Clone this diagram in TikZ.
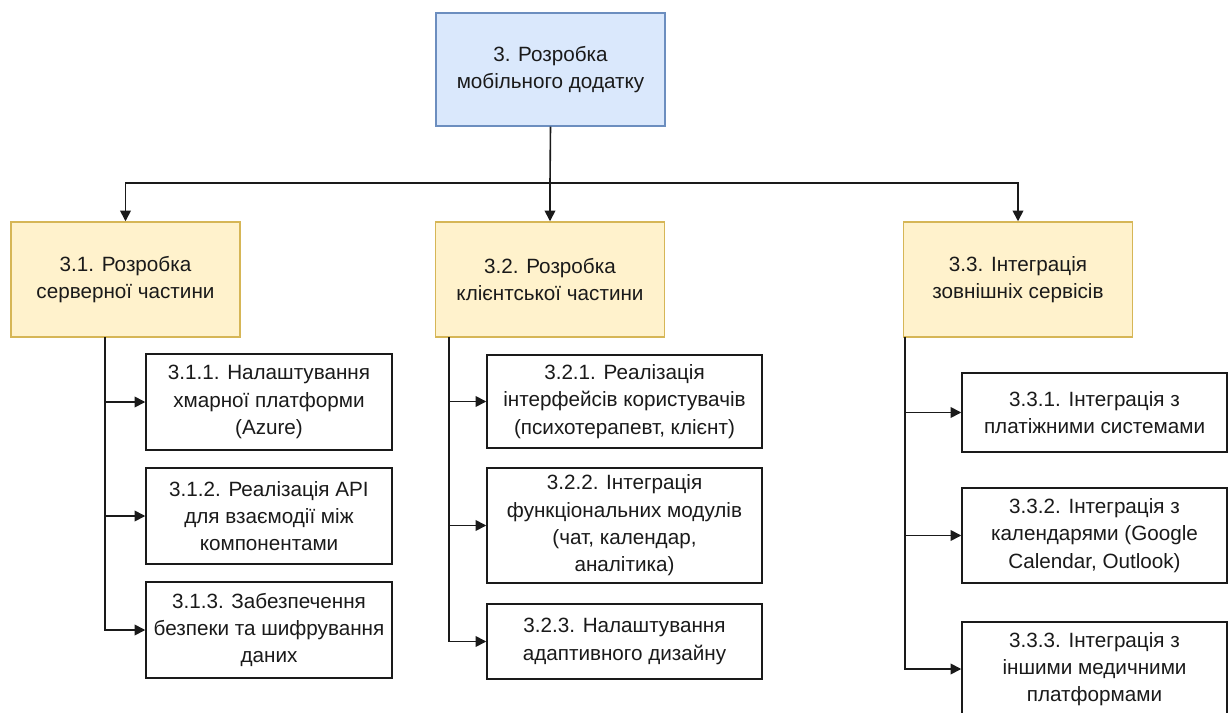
\documentclass[tikz,border=0pt]{standalone}
\usepackage{fontspec}
\setmainfont{Liberation Sans}
\usetikzlibrary{arrows.meta}
\definecolor{bluefill}{HTML}{DAE8FC}
\definecolor{blueline}{HTML}{6C8EBF}
\definecolor{yelfill}{HTML}{FFF2CC}
\definecolor{yelline}{HTML}{D6B656}
\definecolor{ink}{HTML}{1A1A1A}
\begin{document}
\begin{tikzpicture}[x=0.75pt,y=-0.75pt,
  boxbase/.style={rectangle,inner sep=0pt,align=center,text=ink,line width=1.1pt,
    font=\fontsize{15.5}{20.5}\selectfont},
  topbox/.style={boxbase,draw=blueline,fill=bluefill,minimum width=171.75pt,minimum height=84.75pt},
  midbox/.style={boxbase,draw=yelline,fill=yelfill,minimum width=171.75pt,minimum height=86.25pt},
  leafbox/.style={boxbase,draw=ink,fill=white},
  conn/.style={draw=ink,line width=1.2pt},
  arr/.style={conn,-{Triangle[length=8pt,width=8pt]}}
]
\useasboundingbox (0,0) rectangle (1232,713);
\clip (0,0) rectangle (1232,713);
\fill[white] (0,0) rectangle (1232,713);

\node[topbox] (top) at (550.5,69.5) {3. Розробка\\мобільного додатку};

\node[midbox] (b1) at (125.5,279.5) {3.1. Розробка\\серверної частини};
\node[midbox] (b2) at (550,279.5) {3.2. Розробка\\клієнтської частини};
\node[midbox] (b3) at (1018,279.5) {3.3. Інтеграція\\зовнішніх сервісів};

\node[leafbox,minimum width=184.5pt,minimum height=72pt] (a1) at (269,402) {3.1.1. Налаштування\\хмарної платформи\\(Azure)};
\node[leafbox,minimum width=184.5pt,minimum height=72pt] (a2) at (269,516) {3.1.2. Реалізація API\\для взаємодії між\\компонентами};
\node[leafbox,minimum width=184.5pt,minimum height=72pt] (a3) at (269,630) {3.1.3. Забезпечення\\безпеки та шифрування\\даних};

\node[leafbox,minimum width=206.25pt,minimum height=69.75pt] (c1) at (624.5,401.5) {3.2.1. Реалізація\\інтерфейсів користувачів\\(психотерапевт, клієнт)};
\node[leafbox,minimum width=206.25pt,minimum height=86.25pt] (c2) at (624.5,525.5) {3.2.2. Інтеграція\\функціональних модулів\\(чат, календар,\\аналітика)};
\node[leafbox,minimum width=206.25pt,minimum height=56.25pt] (c3) at (624.5,641.5) {3.2.3. Налаштування\\адаптивного дизайну};

\node[leafbox,minimum width=198.75pt,minimum height=59.25pt] (d1) at (1094.5,412.5) {3.3.1. Інтеграція з\\платіжними системами};
\node[leafbox,minimum width=198.75pt,minimum height=71.25pt] (d2) at (1094.5,535.5) {3.3.2. Інтеграція з\\календарями (Google\\Calendar, Outlook)};
\node[leafbox,minimum width=198.75pt,minimum height=70.5pt] (d3) at (1094.5,669) {3.3.3. Інтеграція з\\іншими медичними\\платформами};

% top level connectors
\coordinate (hub) at (550,183);
\draw[conn] (top.south) -- (hub);
\draw[arr] (hub) -| (b1.north);
\draw[arr] (hub) -- (b2.north);
\draw[arr] (hub) -| (b3.north);

% trunks
\coordinate (t1) at (105,337);
\coordinate (t2) at (449,337);
\coordinate (t3) at (905,337);
\draw[arr] (t1) |- (a1.west);
\draw[arr] (t1) |- (a2.west);
\draw[arr] (t1) |- (a3.west);
\draw[arr] (t2) |- (c1.west);
\draw[arr] (t2) |- (c2.west);
\draw[arr] (t2) |- (c3.west);
\draw[arr] (t3) |- (d1.west);
\draw[arr] (t3) |- (d2.west);
\draw[arr] (t3) |- (d3.west);
\end{tikzpicture}
\end{document}
